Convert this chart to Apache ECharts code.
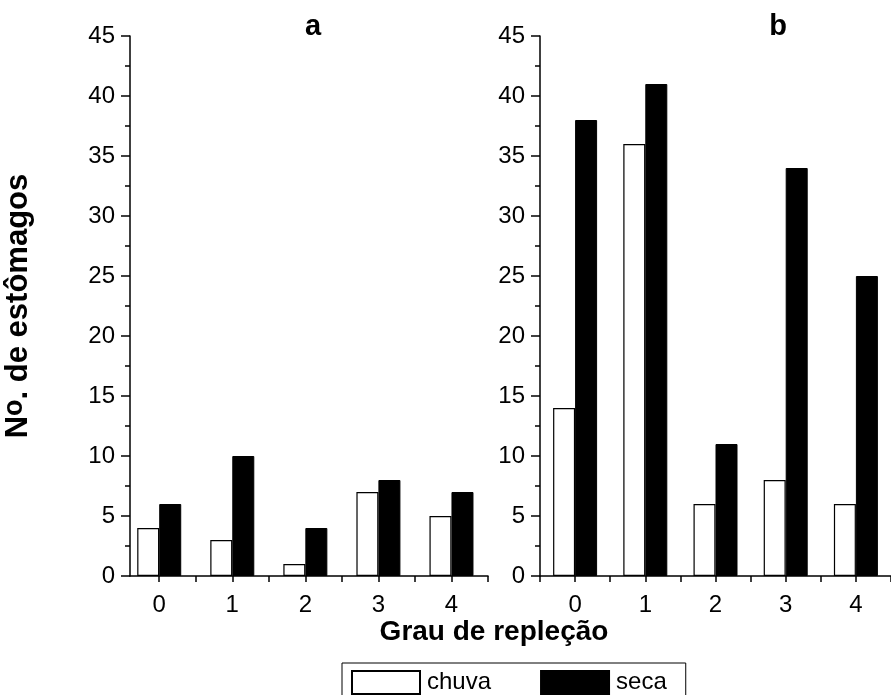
<!DOCTYPE html>
<html>
<head>
<meta charset="utf-8">
<script src="https://cdn.jsdelivr.net/npm/echarts@6/dist/echarts.min.js"></script>
<style>
  html, body { margin: 0; padding: 0; background: #fff; }
  #chart { width: 891px; height: 695px; }
</style>
</head>
<body>
<div id="chart"></div>
<script>
// Grau de repleção (0-4)
var graus = [0, 1, 2, 3, 4];
var tickLabels = [0, 1, 2, 3, 4];
var tickMarks = [0, 0.5, 1, 1.5, 2, 2.5, 3, 3.5, 4, 4.5];
var tickMarksB = [-0.5, 0, 0.5, 1, 1.5, 2, 2.5, 3, 3.5, 4, 4.5];

// painel a
var chuvaA = [4, 3, 1, 7, 5];
var secaA = [6, 10, 4, 8, 7];
// painel b
var chuvaB = [14, 36, 6, 8, 6];
var secaB = [38, 41, 11, 34, 25];

var FONT = "Liberation Sans, Arial, sans-serif";

function pairs(vals) {
  return graus.map(function (g, i) { return [g, vals[i]]; });
}

function makeX(idx, min, max, ticks) {
  return {
    type: "value",
    gridIndex: idx,
    min: min,
    max: max,
    splitLine: { show: false },
    axisLine: { show: true, onZero: false, lineStyle: { color: "#000", width: 1.5 } },
    axisTick: { show: true, length: 6, customValues: ticks, lineStyle: { color: "#000", width: 1.5 } },
    axisLabel: {
      customValues: tickLabels,
      color: "#000",
      fontFamily: FONT,
      fontSize: 24,
      margin: 17
    }
  };
}

function makeY(idx) {
  return {
    type: "value",
    gridIndex: idx,
    min: 0,
    max: 45,
    interval: 5,
    splitLine: { show: false },
    axisLine: { show: true, onZero: false, lineStyle: { color: "#000", width: 1.5 } },
    axisTick: { show: true, length: 9, lineStyle: { color: "#000", width: 1.5 } },
    minorTick: { show: true, splitNumber: 2, length: 5, lineStyle: { color: "#000", width: 1.5 } },
    axisLabel: { color: "#000", fontFamily: FONT, fontSize: 24, margin: 15 }
  };
}

var chuvaStyle = { color: "#fff", borderColor: "#000", borderWidth: 1.2 };
var secaStyle = { color: "#000", borderColor: "#000", borderWidth: 1 };

var myChart = echarts.init(document.getElementById("chart"));

var yA = makeY(0);
yA.name = "N{s|o}. de estômagos";
yA.nameLocation = "middle";
yA.nameGap = 94;
yA.nameTextStyle = {
  color: "#000",
  fontFamily: FONT,
  fontSize: 31,
  fontWeight: "bold",
  rich: {
    s: { fontFamily: FONT, fontSize: 27, fontWeight: "bold", color: "#000", padding: [0, 0, 8, 0] }
  }
};

var option = {
  animation: false,
  backgroundColor: "#fff",
  title: [
    { text: "a", left: 308, top: 7, textAlign: "center",
      textStyle: { fontFamily: FONT, fontSize: 29, fontWeight: "bold", color: "#000" } },
    { text: "b", left: 773, top: 7, textAlign: "center",
      textStyle: { fontFamily: FONT, fontSize: 29, fontWeight: "bold", color: "#000" } },
    { text: "Grau de repleção", left: 489, top: 613, textAlign: "center",
      textStyle: { fontFamily: FONT, fontSize: 28, fontWeight: "bold", color: "#000" } }
  ],
  legend: {
    data: ["chuva", "seca"],
    left: 342,
    top: 663,
    orient: "horizontal",
    icon: "rect",
    borderColor: "#000",
    borderWidth: 1,
    padding: [7, 19, 8, 9],
    itemWidth: 68,
    itemHeight: 23,
    itemGap: 49,
    textStyle: { color: "#000", fontFamily: FONT, fontSize: 24, padding: [0, 0, 0, 2] }
  },
  grid: [
    { left: 128, top: 36, width: 360, height: 540 },
    { left: 540, top: 36, width: 360, height: 540 }
  ],
  xAxis: [makeX(0, -0.4, 4.5, tickMarks), makeX(1, -0.5, 4.5, tickMarksB)],
  yAxis: [yA, makeY(1)],
  series: [
    { name: "chuva", type: "bar", xAxisIndex: 0, yAxisIndex: 0, barWidth: 22, barGap: "0%",
      itemStyle: chuvaStyle, data: pairs(chuvaA) },
    { name: "seca", type: "bar", xAxisIndex: 0, yAxisIndex: 0, barWidth: 22, barGap: "0%",
      itemStyle: secaStyle, data: pairs(secaA) },
    { name: "chuva", type: "bar", xAxisIndex: 1, yAxisIndex: 1, barWidth: 22, barGap: "0%",
      itemStyle: chuvaStyle, data: pairs(chuvaB) },
    { name: "seca", type: "bar", xAxisIndex: 1, yAxisIndex: 1, barWidth: 22, barGap: "0%",
      itemStyle: secaStyle, data: pairs(secaB) }
  ]
};

myChart.setOption(option);
</script>
</body>
</html>
